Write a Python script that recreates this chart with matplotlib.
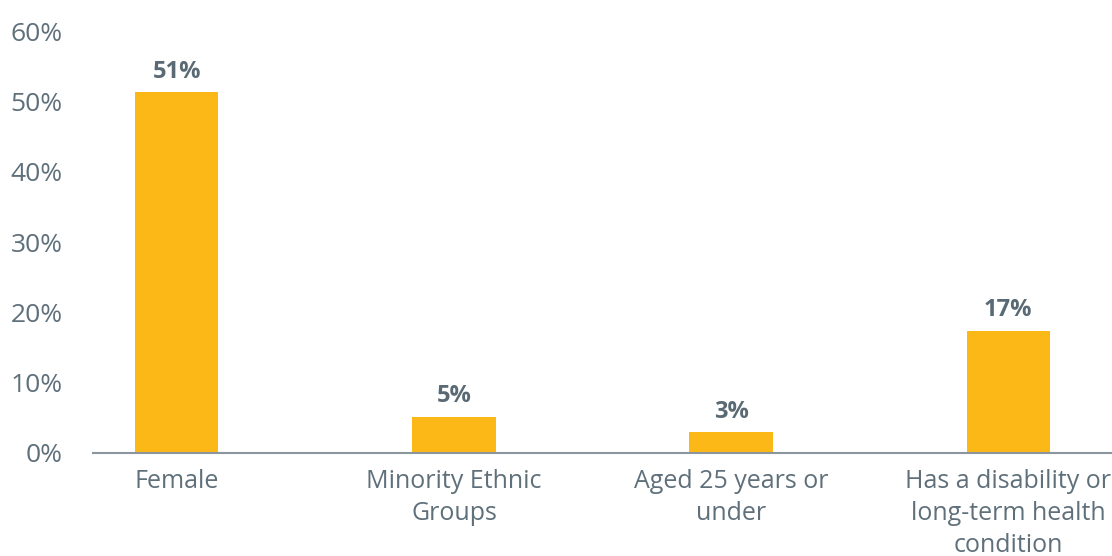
import matplotlib.pyplot as plt

plt.rcParams['font.family'] = ['Open Sans', 'DejaVu Sans']

categories = ['Female', 'Minority Ethnic\nGroups', 'Aged 25 years or\nunder',
              'Has a disability or\nlong-term health\ncondition']
shares = [51.4, 5.1, 2.9, 17.4]
yticks = [0, 10, 20, 30, 40, 50, 60]

text_grey = '#5f707b'
bar_colour = '#fbb817'

fig = plt.figure(figsize=(11.12, 5.56), dpi=100)
ax = fig.add_axes([0.0836, 0.186, 0.9164, 0.757])

x = range(len(categories))
ax.bar(x, shares, width=0.3, color=bar_colour, zorder=2)

# value labels above each bar
for i, v in zip(x, shares):
    ax.text(i, v + 1.2, '{:.0f}%'.format(v), ha='center', va='bottom',
            fontsize=17, fontweight='bold', color='#5a6a74')

ax.set_xlim(-0.303, 3.375)
ax.set_ylim(0, 60)
ax.set_yticks(yticks)
ax.set_yticklabels(['{}%'.format(t) for t in yticks])
ax.set_xticks(list(x))
ax.set_xticklabels(categories, linespacing=1.36)

ax.tick_params(axis='y', length=0, pad=22, labelsize=19, labelcolor=text_grey)
ax.tick_params(axis='x', length=0, pad=12, labelsize=18, labelcolor=text_grey)

for side in ['top', 'right', 'left']:
    ax.spines[side].set_visible(False)
ax.spines['bottom'].set_color('#8a959d')
ax.spines['bottom'].set_linewidth(1.5)

fig.savefig('out.png', dpi=100)
